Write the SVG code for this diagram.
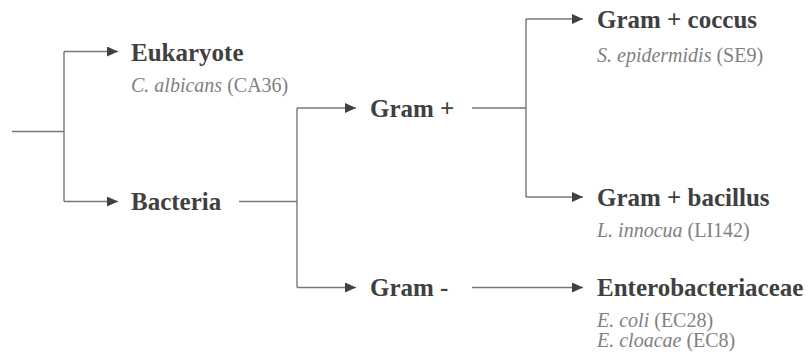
<svg xmlns="http://www.w3.org/2000/svg" width="809" height="360" viewBox="0 0 809 360">
<style>
text{font-family:'Liberation Serif','DejaVu Serif',serif}
.t{font-weight:bold;font-size:25px;fill:#404040}
.s{font-size:20px;fill:#808080}
.i{font-style:italic}
.c{fill:none;stroke:#777;stroke-width:1.4}
.a{fill:none;stroke:#777;stroke-width:1.4;marker-end:url(#arr)}
</style>
<defs>
<marker id="arr" markerUnits="userSpaceOnUse" markerWidth="12" markerHeight="11" refX="11" refY="5" orient="auto">
<path d="M0,0 L11,5 L0,10 z" fill="#404040"/>
</marker>
</defs>
<rect width="809" height="360" fill="#fff"/>
<g id="connectors">
<path class="c" d="M12,131.5 H64 M64,51.5 V201.5"/>
<path class="a" d="M64,51.5 H118"/>
<path class="a" d="M64,201.5 H118"/>
<path class="c" d="M239,201.5 H297 M297,108 V287.5"/>
<path class="a" d="M297,108 H356"/>
<path class="a" d="M297,287.5 H356"/>
<path class="c" d="M472,108 H526 M526,19 V197"/>
<path class="a" d="M526,19 H583"/>
<path class="a" d="M526,197 H583"/>
<path class="a" d="M472,287.5 H583"/>
</g>
<g id="eukaryote">
<text class="t" x="131" y="61">Eukaryote</text>
<text class="s" x="131" y="92"><tspan class="i">C. albicans</tspan> (CA36)</text>
</g>
<g id="bacteria">
<text class="t" x="131" y="210">Bacteria</text>
</g>
<g id="gram-pos">
<text class="t" x="370" y="117">Gram +</text>
</g>
<g id="gram-neg">
<text class="t" x="370" y="296">Gram -</text>
</g>
<g id="gram-pos-coccus">
<text class="t" x="597" y="28">Gram + coccus</text>
<text class="s" x="597" y="62"><tspan class="i">S. epidermidis</tspan> (SE9)</text>
</g>
<g id="gram-pos-bacillus">
<text class="t" x="597" y="206">Gram + bacillus</text>
<text class="s" x="597" y="237"><tspan class="i">L. innocua</tspan> (LI142)</text>
</g>
<g id="enterobacteriaceae">
<text class="t" x="597" y="296">Enterobacteriaceae</text>
<text class="s" x="597" y="327"><tspan class="i">E. coli</tspan> (EC28)</text>
<text class="s" x="597" y="347"><tspan class="i">E. cloacae</tspan> (EC8)</text>
</g>
</svg>
